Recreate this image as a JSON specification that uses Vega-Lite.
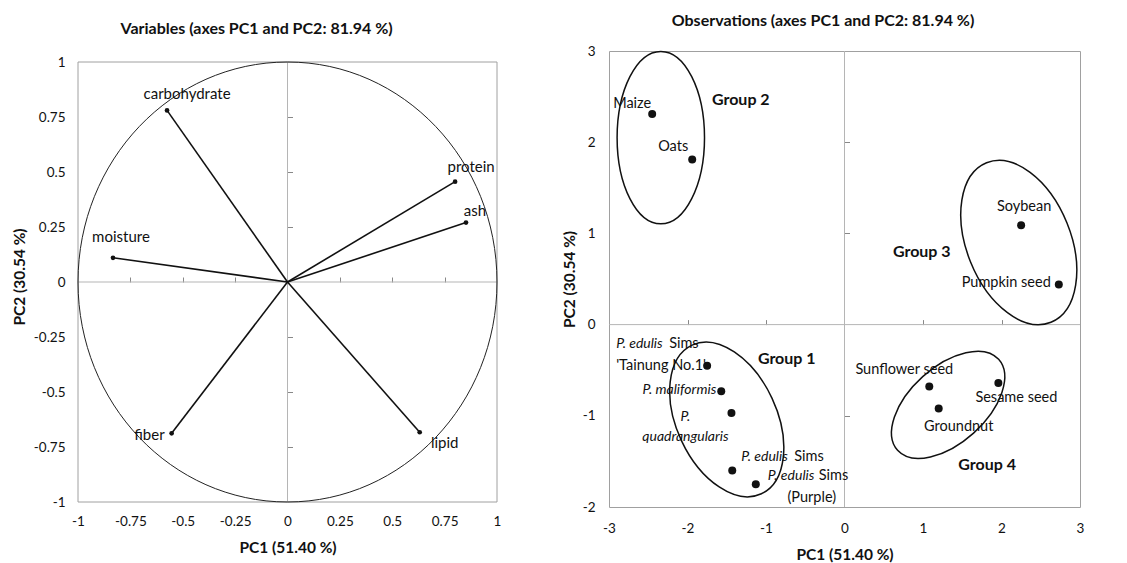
{
"$schema": "https://vega.github.io/schema/vega-lite/v6.json",
"background": "white",
"padding": {"left": 12, "top": 12, "right": 5, "bottom": 0},
"spacing": 60,
"config": {
  "font": "Lato",
  "view": {"stroke": "#a0a0a0", "strokeWidth": 1},
  "axis": {"labelFont": "Lato", "labelFontSize": 13.5, "labelColor": "#111", "titleFont": "Lato", "titleFontSize": 15.5, "titleFontWeight": "bold", "titleColor": "#111", "grid": false, "domain": false, "ticks": false, "labelFlush": false, "labelOverlap": false},
  "text": {"font": "Lato", "fontSize": 14.5, "color": "#111"},
  "title": {"font": "Lato", "fontSize": 16, "fontWeight": "bold", "color": "#111", "anchor": "middle", "frame": "bounds"}
},
"datasets": {
  "origin": [{"x": 0, "y": 0}],
  "vars": [
    {"name": "carbohydrate", "x": -0.575, "y": 0.78},
    {"name": "protein", "x": 0.8, "y": 0.456},
    {"name": "ash", "x": 0.852, "y": 0.27},
    {"name": "moisture", "x": -0.833, "y": 0.11},
    {"name": "fiber", "x": -0.553, "y": -0.688},
    {"name": "lipid", "x": 0.631, "y": -0.683}
  ],
  "obs": [
    {"id": "maize", "name": "Maize", "x": -2.45, "y": 2.31},
    {"id": "oats", "name": "Oats", "x": -1.94, "y": 1.81},
    {"id": "soy", "name": "Soybean", "x": 2.25, "y": 1.09},
    {"id": "pump", "name": "Pumpkin seed", "x": 2.73, "y": 0.44},
    {"id": "tn", "name": "P. edulis Sims 'Tainung No.1'", "sp": "P. edulis", "auth": "Sims", "cv": "'Tainung No.1'", "x": -1.75, "y": -0.45},
    {"id": "mal", "name": "P. maliformis", "sp": "P. maliformis", "x": -1.57, "y": -0.73},
    {"id": "quad", "name": "P. quadrangularis", "sp": "P. quadrangularis", "x": -1.44, "y": -0.97},
    {"id": "pe", "name": "P. edulis Sims", "sp": "P. edulis", "auth": "Sims", "x": -1.43, "y": -1.6},
    {"id": "pur", "name": "P. edulis Sims (Purple)", "sp": "P. edulis", "auth": "Sims", "cv": "(Purple)", "x": -1.13, "y": -1.75},
    {"id": "sun", "name": "Sunflower seed", "x": 1.08, "y": -0.68},
    {"id": "gnut", "name": "Groundnut", "x": 1.2, "y": -0.92},
    {"id": "ses", "name": "Sesame seed", "x": 1.96, "y": -0.64}
  ],
  "groups": [
    {"group": "Group 1", "x": -1.5, "y": -1.04},
    {"group": "Group 2", "x": -2.34, "y": 2.05},
    {"group": "Group 3", "x": 2.22, "y": 0.9},
    {"group": "Group 4", "x": 1.32, "y": -0.88}
  ]
},
"hconcat": [
  {
    "width": 419, "height": 451,
    "view": {"stroke": null},
    "title": {"text": "Variables (axes PC1 and PC2: 81.94 %)", "offset": 14},
    "resolve": {"axis": {"x": "independent", "y": "independent"}},
    "layer": [
      {"data": {"name": "origin"}, "mark": {"type": "rule", "color": "#b5b5b5", "strokeWidth": 1},
       "encoding": {
         "x": {"field": "x", "type": "quantitative", "axis": {"orient": "top", "offset": -231, "labels": false, "ticks": true, "tickSize": 5, "tickColor": "#888", "domain": false, "grid": false, "title": null, "values": [-0.75, -0.5, -0.25, 0.25, 0.5, 0.75]}},
         "y": {"datum": -1, "type": "quantitative", "axis": null},
         "y2": {"datum": 1}}},
      {"data": {"name": "origin"}, "mark": {"type": "rule", "color": "#b5b5b5", "strokeWidth": 1},
       "encoding": {"y": {"field": "y", "type": "quantitative", "axis": {"orient": "right", "offset": -209.5, "labels": false, "ticks": true, "tickSize": 5, "tickColor": "#888", "domain": false, "grid": false, "title": null, "values": [-0.75, -0.5, -0.25, 0.25, 0.5, 0.75]}}}},
      {"layer": [
        {"data": {"name": "origin"}, "mark": {"type": "rect", "fill": "transparent", "stroke": "#a0a0a0", "strokeWidth": 1},
         "encoding": {"x": {"datum": -1, "type": "quantitative"}, "x2": {"datum": 1}, "y": {"datum": -1, "type": "quantitative"}, "y2": {"datum": 1}}},
        {"data": {"name": "origin"}, "mark": {"type": "point", "shape": "M1,0C1,0.58,0.5523,1.0501,0,1.0501C-0.5523,1.0501,-1,0.58,-1,0C-1,-0.58,-0.5523,-1.0501,0,-1.0501C0.5523,-1.0501,1,-0.58,1,0Z", "size": 175561, "filled": false, "stroke": "#222", "strokeWidth": 1, "opacity": 1},
         "encoding": {"x": {"field": "x", "type": "quantitative"}, "y": {"field": "y", "type": "quantitative"}}},
        {"data": {"name": "vars"}, "mark": {"type": "rule", "color": "#111", "strokeWidth": 1.6},
         "encoding": {
           "x": {"field": "x", "type": "quantitative", "scale": {"domain": [-1, 1], "nice": false, "zero": false},
                 "axis": {"orient": "bottom", "values": [-1, -0.75, -0.5, -0.25, 0, 0.25, 0.5, 0.75, 1], "labelPadding": 12, "title": "PC1 (51.40 %)", "titlePadding": 13, "labelExpr": "replace(format(datum.value, '~g'), '\u2212', '-')"}},
           "y": {"field": "y", "type": "quantitative", "scale": {"domain": [-1, 1.05], "nice": false, "zero": false},
                 "axis": {"orient": "left", "values": [-1, -0.75, -0.5, -0.25, 0, 0.25, 0.5, 0.75, 1], "labelPadding": 13, "title": "PC2 (30.54 %)", "titlePadding": 6, "labelExpr": "replace(format(datum.value, '~g'), '\u2212', '-')"}},
           "x2": {"datum": 0}, "y2": {"datum": 0}}},
        {"data": {"name": "vars"}, "mark": {"type": "point", "filled": true, "size": 22, "color": "#111", "opacity": 1},
         "encoding": {"x": {"field": "x", "type": "quantitative"}, "y": {"field": "y", "type": "quantitative"}}},
        {"data": {"name": "vars"}, "transform": [{"filter": {"field": "name", "equal": "carbohydrate"}}], "mark": {"type": "text", "fontSize": 15, "dx": 20, "dy": -16},
         "encoding": {"x": {"field": "x", "type": "quantitative"}, "y": {"field": "y", "type": "quantitative"}, "text": {"field": "name"}}},
        {"data": {"name": "vars"}, "transform": [{"filter": {"field": "name", "equal": "protein"}}], "mark": {"type": "text", "fontSize": 15, "dx": 16, "dy": -15},
         "encoding": {"x": {"field": "x", "type": "quantitative"}, "y": {"field": "y", "type": "quantitative"}, "text": {"field": "name"}}},
        {"data": {"name": "vars"}, "transform": [{"filter": {"field": "name", "equal": "ash"}}], "mark": {"type": "text", "fontSize": 15, "dx": 9, "dy": -12},
         "encoding": {"x": {"field": "x", "type": "quantitative"}, "y": {"field": "y", "type": "quantitative"}, "text": {"field": "name"}}},
        {"data": {"name": "vars"}, "transform": [{"filter": {"field": "name", "equal": "moisture"}}], "mark": {"type": "text", "fontSize": 15, "dx": 8, "dy": -21},
         "encoding": {"x": {"field": "x", "type": "quantitative"}, "y": {"field": "y", "type": "quantitative"}, "text": {"field": "name"}}},
        {"data": {"name": "vars"}, "transform": [{"filter": {"field": "name", "equal": "fiber"}}], "mark": {"type": "text", "fontSize": 15, "align": "right", "dx": -7, "dy": 2},
         "encoding": {"x": {"field": "x", "type": "quantitative"}, "y": {"field": "y", "type": "quantitative"}, "text": {"field": "name"}}},
        {"data": {"name": "vars"}, "transform": [{"filter": {"field": "name", "equal": "lipid"}}], "mark": {"type": "text", "fontSize": 15, "dx": 25, "dy": 11},
         "encoding": {"x": {"field": "x", "type": "quantitative"}, "y": {"field": "y", "type": "quantitative"}, "text": {"field": "name"}}}
      ]}
    ]
  },
  {
    "width": 471, "height": 456,
    "title": {"text": "Observations (axes PC1 and PC2: 81.94 %)", "offset": 15},
    "resolve": {"axis": {"x": "independent", "y": "independent"}},
    "layer": [
      {"data": {"name": "origin"}, "mark": {"type": "rule", "color": "#b5b5b5", "strokeWidth": 1},
       "encoding": {"x": {"field": "x", "type": "quantitative", "axis": {"orient": "top", "offset": -273.6, "labels": false, "ticks": true, "tickSize": 5, "tickColor": "#888", "domain": false, "grid": false, "title": null, "values": [-2, -1, 1, 2]}}}},
      {"data": {"name": "origin"}, "mark": {"type": "rule", "color": "#b5b5b5", "strokeWidth": 1},
       "encoding": {"y": {"field": "y", "type": "quantitative", "axis": {"orient": "right", "offset": -235.5, "labels": false, "ticks": true, "tickSize": 5, "tickColor": "#888", "domain": false, "grid": false, "title": null, "values": [-1, 1, 2]}}}},
      {"layer": [
        {"data": {"name": "obs"}, "mark": {"type": "point", "filled": true, "size": 64, "color": "#111", "opacity": 1},
         "encoding": {
           "x": {"field": "x", "type": "quantitative", "scale": {"domain": [-3, 3], "nice": false, "zero": false},
                 "axis": {"orient": "bottom", "values": [-3, -2, -1, 0, 1, 2, 3], "labelPadding": 14, "title": "PC1 (51.40 %)", "titlePadding": 13, "labelExpr": "replace(format(datum.value, '~g'), '\u2212', '-')"}},
           "y": {"field": "y", "type": "quantitative", "scale": {"domain": [-2, 3], "nice": false, "zero": false},
                 "axis": {"orient": "left", "values": [-2, -1, 0, 1, 2, 3], "labelPadding": 14, "title": "PC2 (30.54 %)", "titlePadding": 5, "labelExpr": "replace(format(datum.value, '~g'), '\u2212', '-')"}}}},
        {"data": {"name": "groups"}, "transform": [{"filter": {"field": "group", "equal": "Group 1"}}],
         "mark": {"type": "point", "shape": "M1,0C1,0.3368,0.5523,0.6098,0,0.6098C-0.5523,0.6098,-1,0.3368,-1,0C-1,-0.3368,-0.5523,-0.6098,0,-0.6098C0.5523,-0.6098,1,-0.3368,1,0Z", "size": 26896, "angle": 65, "filled": false, "stroke": "#111", "strokeWidth": 1.5, "opacity": 1},
         "encoding": {"x": {"field": "x", "type": "quantitative"}, "y": {"field": "y", "type": "quantitative"}}},
        {"data": {"name": "groups"}, "transform": [{"filter": {"field": "group", "equal": "Group 2"}}],
         "mark": {"type": "point", "shape": "M1,0C1,0.28,0.5523,0.507,0,0.507C-0.5523,0.507,-1,0.28,-1,0C-1,-0.28,-0.5523,-0.507,0,-0.507C0.5523,-0.507,1,-0.28,1,0Z", "size": 29722, "angle": 90, "filled": false, "stroke": "#111", "strokeWidth": 1.5, "opacity": 1},
         "encoding": {"x": {"field": "x", "type": "quantitative"}, "y": {"field": "y", "type": "quantitative"}}},
        {"data": {"name": "groups"}, "transform": [{"filter": {"field": "group", "equal": "Group 3"}}],
         "mark": {"type": "point", "shape": "M1,0C1,0.334,0.5523,0.6047,0,0.6047C-0.5523,0.6047,-1,0.334,-1,0C-1,-0.334,-0.5523,-0.6047,0,-0.6047C0.5523,-0.6047,1,-0.334,1,0Z", "size": 29584, "angle": 68, "filled": false, "stroke": "#111", "strokeWidth": 1.5, "opacity": 1},
         "encoding": {"x": {"field": "x", "type": "quantitative"}, "y": {"field": "y", "type": "quantitative"}}},
        {"data": {"name": "groups"}, "transform": [{"filter": {"field": "group", "equal": "Group 4"}}],
         "mark": {"type": "point", "shape": "M1,0C1,0.3086,0.5523,0.5588,0,0.5588C-0.5523,0.5588,-1,0.3086,-1,0C-1,-0.3086,-0.5523,-0.5588,0,-0.5588C0.5523,-0.5588,1,-0.3086,1,0Z", "size": 18496, "angle": -42, "filled": false, "stroke": "#111", "strokeWidth": 1.5, "opacity": 1},
         "encoding": {"x": {"field": "x", "type": "quantitative"}, "y": {"field": "y", "type": "quantitative"}}},
        {"data": {"name": "groups"}, "transform": [{"filter": {"field": "group", "equal": "Group 1"}}], "mark": {"type": "text", "fontWeight": "bold", "fontSize": 16, "dx": 60, "dy": -60},
         "encoding": {"x": {"field": "x", "type": "quantitative"}, "y": {"field": "y", "type": "quantitative"}, "text": {"field": "group"}}},
        {"data": {"name": "groups"}, "transform": [{"filter": {"field": "group", "equal": "Group 2"}}], "mark": {"type": "text", "fontWeight": "bold", "fontSize": 16, "dx": 80, "dy": -38},
         "encoding": {"x": {"field": "x", "type": "quantitative"}, "y": {"field": "y", "type": "quantitative"}, "text": {"field": "group"}}},
        {"data": {"name": "groups"}, "transform": [{"filter": {"field": "group", "equal": "Group 3"}}], "mark": {"type": "text", "fontWeight": "bold", "fontSize": 16, "dx": -97, "dy": 9},
         "encoding": {"x": {"field": "x", "type": "quantitative"}, "y": {"field": "y", "type": "quantitative"}, "text": {"field": "group"}}},
        {"data": {"name": "groups"}, "transform": [{"filter": {"field": "group", "equal": "Group 4"}}], "mark": {"type": "text", "fontWeight": "bold", "fontSize": 16, "dx": 39, "dy": 60},
         "encoding": {"x": {"field": "x", "type": "quantitative"}, "y": {"field": "y", "type": "quantitative"}, "text": {"field": "group"}}},
        {"data": {"name": "obs"}, "transform": [{"filter": {"field": "id", "equal": "maize"}}], "mark": {"type": "text", "align": "right", "dx": -1, "dy": -10},
         "encoding": {"x": {"field": "x", "type": "quantitative"}, "y": {"field": "y", "type": "quantitative"}, "text": {"field": "name"}}},
        {"data": {"name": "obs"}, "transform": [{"filter": {"field": "id", "equal": "oats"}}], "mark": {"type": "text", "align": "right", "dx": -4, "dy": -13},
         "encoding": {"x": {"field": "x", "type": "quantitative"}, "y": {"field": "y", "type": "quantitative"}, "text": {"field": "name"}}},
        {"data": {"name": "obs"}, "transform": [{"filter": {"field": "id", "equal": "soy"}}], "mark": {"type": "text", "dx": 3, "dy": -18},
         "encoding": {"x": {"field": "x", "type": "quantitative"}, "y": {"field": "y", "type": "quantitative"}, "text": {"field": "name"}}},
        {"data": {"name": "obs"}, "transform": [{"filter": {"field": "id", "equal": "pump"}}], "mark": {"type": "text", "align": "right", "dx": -8, "dy": -1},
         "encoding": {"x": {"field": "x", "type": "quantitative"}, "y": {"field": "y", "type": "quantitative"}, "text": {"field": "name"}}},
        {"data": {"name": "obs"}, "transform": [{"filter": {"field": "id", "equal": "sun"}}], "mark": {"type": "text", "dx": -25, "dy": -17},
         "encoding": {"x": {"field": "x", "type": "quantitative"}, "y": {"field": "y", "type": "quantitative"}, "text": {"field": "name"}}},
        {"data": {"name": "obs"}, "transform": [{"filter": {"field": "id", "equal": "gnut"}}], "mark": {"type": "text", "dx": 20, "dy": 18},
         "encoding": {"x": {"field": "x", "type": "quantitative"}, "y": {"field": "y", "type": "quantitative"}, "text": {"field": "name"}}},
        {"data": {"name": "obs"}, "transform": [{"filter": {"field": "id", "equal": "ses"}}], "mark": {"type": "text", "dx": 18, "dy": 15},
         "encoding": {"x": {"field": "x", "type": "quantitative"}, "y": {"field": "y", "type": "quantitative"}, "text": {"field": "name"}}},
        {"data": {"name": "obs"}, "transform": [{"filter": {"field": "id", "equal": "mal"}}], "mark": {"type": "text", "fontStyle": "italic", "fontSize": 14, "align": "right", "dx": -5, "dy": -1},
         "encoding": {"x": {"field": "x", "type": "quantitative"}, "y": {"field": "y", "type": "quantitative"}, "text": {"field": "sp"}}},
        {"data": {"name": "obs"}, "transform": [{"filter": {"field": "id", "equal": "quad"}}], "mark": {"type": "text", "fontStyle": "italic", "fontSize": 14, "align": "center", "baseline": "top", "lineBreak": " ", "lineHeight": 20, "dx": -46, "dy": -3},
         "encoding": {"x": {"field": "x", "type": "quantitative"}, "y": {"field": "y", "type": "quantitative"}, "text": {"field": "sp"}}},
        {"data": {"name": "obs"}, "transform": [{"filter": {"field": "id", "equal": "tn"}}], "mark": {"type": "text", "fontStyle": "italic", "fontSize": 14, "align": "left", "dx": -91, "dy": -22},
         "encoding": {"x": {"field": "x", "type": "quantitative"}, "y": {"field": "y", "type": "quantitative"}, "text": {"field": "sp"}}},
        {"data": {"name": "obs"}, "transform": [{"filter": {"field": "id", "equal": "tn"}}], "mark": {"type": "text", "align": "left", "dx": -38, "dy": -22},
         "encoding": {"x": {"field": "x", "type": "quantitative"}, "y": {"field": "y", "type": "quantitative"}, "text": {"field": "auth"}}},
        {"data": {"name": "obs"}, "transform": [{"filter": {"field": "id", "equal": "tn"}}], "mark": {"type": "text", "align": "left", "dx": -91, "dy": 0},
         "encoding": {"x": {"field": "x", "type": "quantitative"}, "y": {"field": "y", "type": "quantitative"}, "text": {"field": "cv"}}},
        {"data": {"name": "obs"}, "transform": [{"filter": {"field": "id", "equal": "pe"}}], "mark": {"type": "text", "fontStyle": "italic", "fontSize": 14, "align": "left", "dx": 9, "dy": -14},
         "encoding": {"x": {"field": "x", "type": "quantitative"}, "y": {"field": "y", "type": "quantitative"}, "text": {"field": "sp"}}},
        {"data": {"name": "obs"}, "transform": [{"filter": {"field": "id", "equal": "pe"}}], "mark": {"type": "text", "align": "left", "dx": 62, "dy": -14},
         "encoding": {"x": {"field": "x", "type": "quantitative"}, "y": {"field": "y", "type": "quantitative"}, "text": {"field": "auth"}}},
        {"data": {"name": "obs"}, "transform": [{"filter": {"field": "id", "equal": "pur"}}], "mark": {"type": "text", "fontStyle": "italic", "fontSize": 14, "align": "left", "dx": 12, "dy": -8},
         "encoding": {"x": {"field": "x", "type": "quantitative"}, "y": {"field": "y", "type": "quantitative"}, "text": {"field": "sp"}}},
        {"data": {"name": "obs"}, "transform": [{"filter": {"field": "id", "equal": "pur"}}], "mark": {"type": "text", "align": "left", "dx": 63, "dy": -8},
         "encoding": {"x": {"field": "x", "type": "quantitative"}, "y": {"field": "y", "type": "quantitative"}, "text": {"field": "auth"}}},
        {"data": {"name": "obs"}, "transform": [{"filter": {"field": "id", "equal": "pur"}}], "mark": {"type": "text", "align": "center", "dx": 56, "dy": 14},
         "encoding": {"x": {"field": "x", "type": "quantitative"}, "y": {"field": "y", "type": "quantitative"}, "text": {"field": "cv"}}}
      ]}
    ]
  }
]
}
